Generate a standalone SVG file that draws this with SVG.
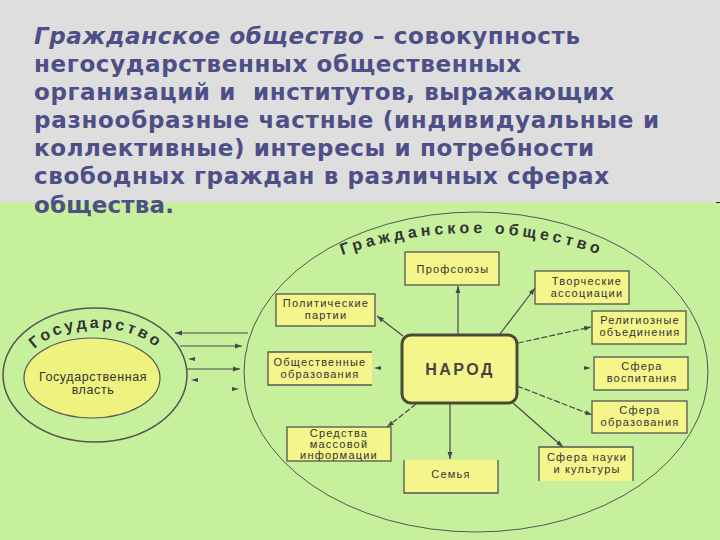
<svg xmlns="http://www.w3.org/2000/svg" width="720" height="540" viewBox="0 0 720 540">
<defs>
<style>
.title{font-family:"DejaVu Sans",Verdana,sans-serif;font-weight:bold;font-size:23px;fill:#4d4f86}
.box{fill:#f4f68c;stroke:#555;stroke-width:1.3}
.bfill{fill:#f4f68c}
.edge{fill:none;stroke:#555;stroke-width:1.3}
.lbl{font-family:"Liberation Sans",Arial,sans-serif;font-size:11px;fill:#333;letter-spacing:1.2px;text-anchor:middle}
.big{font-size:12.5px;letter-spacing:0.6px}
.arc{font-family:"Liberation Sans",Arial,sans-serif;font-weight:bold;fill:#333}
.con{fill:none;stroke:#484848;stroke-width:1.2}
.dash{stroke-dasharray:6 2}
.head{fill:#484848}
</style>
<marker id="ah" viewBox="0 0 10 10" refX="10" refY="5" markerWidth="7" markerHeight="7" markerUnits="userSpaceOnUse" orient="auto">
<path d="M0,1.5 L10,5 L0,8.5 z" fill="#484848"/>
</marker>
<path id="gosArc" d="M 24,372 A 72,44 0 0 1 168,372"/>
<path id="gsArc" d="M 334,258 Q 471,208 610,258"/>
</defs>

<rect x="0" y="0" width="720" height="202" fill="#dedede"/>
<rect x="0" y="202" width="720" height="338" fill="#c6f09c"/>
<line x1="716" y1="202.5" x2="720" y2="202.5" stroke="#222" stroke-width="1"/>

<g id="definition" class="title">
<text x="34" y="44" textLength="546" lengthAdjust="spacing"><tspan font-style="italic">Гражданское общество</tspan> – совокупность</text>
<text x="34" y="72" textLength="487" lengthAdjust="spacing">негосударственных общественных</text>
<text x="34" y="100" textLength="580" lengthAdjust="spacing" xml:space="preserve">организаций и  институтов, выражающих</text>
<text x="34" y="128" textLength="625" lengthAdjust="spacing">разнообразные частные (индивидуальные и</text>
<text x="34" y="156" textLength="560" lengthAdjust="spacing">коллективные) интересы и потребности</text>
<text x="34" y="184" textLength="575" lengthAdjust="spacing">свободных граждан в различных сферах</text>
<text x="34" y="213" textLength="140" lengthAdjust="spacing">общества.</text>
</g>

<g id="gosudarstvo">
<ellipse cx="95" cy="375" rx="92" ry="67" fill="none" stroke="#555" stroke-width="1.5"/>
<ellipse cx="92" cy="378" rx="68" ry="40" fill="#eef27e" stroke="#555" stroke-width="1.2"/>
<text class="arc" font-size="16" letter-spacing="3" text-anchor="middle"><textPath href="#gosArc" startOffset="50%">Государство</textPath></text>
<text class="lbl big" x="93" y="381">Государственная</text>
<text class="lbl big" x="93" y="394">власть</text>
</g>

<g id="grazhdanskoe">
<ellipse cx="476" cy="372" rx="232" ry="160" fill="none" stroke="#555" stroke-width="1"/>
<text class="arc" font-size="16" letter-spacing="4" text-anchor="middle"><textPath href="#gsArc" startOffset="50%">Гражданское общество</textPath></text>
</g>

<g id="connectors">
<path class="con" d="M248,333 L175,333" marker-end="url(#ah)"/>
<path class="con" d="M180,346 L242,346" marker-end="url(#ah)"/>
<polygon class="head" points="188,359 195,357 195,361"/>
<path class="con" d="M187,369 L240,369" marker-end="url(#ah)"/>
<polygon class="head" points="191,380 198,378 198,382"/>
<polygon class="head" points="239,389 232,387 232,391"/>

<path class="con" d="M458,335 L458,286" marker-end="url(#ah)"/>
<path class="con" d="M403,336 L377,316" marker-end="url(#ah)"/>
<path class="con" d="M500,334 L535,288" marker-end="url(#ah)"/>
<path class="con dash" d="M518,343 L591,327" marker-end="url(#ah)"/>
<polygon class="head" points="374,368 381,366 381,370"/>
<polygon class="head" points="591,368 584,366 584,370"/>
<path class="con dash" d="M517,386 L592,415" marker-end="url(#ah)"/>
<path class="con" d="M513,403 L563,447" marker-end="url(#ah)"/>
<path class="con" d="M450,403 L450,459" marker-end="url(#ah)"/>
<path class="con dash" d="M416,404 L387,427" marker-end="url(#ah)"/>
</g>

<g id="narod">
<rect x="402" y="335" width="115" height="68" rx="9" fill="#f4f68c" stroke="#4a4a3a" stroke-width="3"/>
<text x="460" y="375" font-family="Liberation Sans,Arial,sans-serif" font-weight="bold" font-size="16" fill="#444" letter-spacing="2.5" text-anchor="middle">НАРОД</text>
</g>

<g id="profsoyuzy">
<rect class="box" x="405" y="252" width="94" height="33"/>
<text class="lbl" x="453" y="273">Профсоюзы</text>
</g>

<g id="partii">
<rect class="box" x="276" y="294" width="99" height="32"/>
<text class="lbl" x="326" y="307">Политические</text>
<text class="lbl" x="326" y="318.5">партии</text>
</g>

<g id="tvorcheskie">
<rect class="box" x="535" y="271" width="94" height="33"/>
<text class="lbl" x="587" y="285">Творческие</text>
<text class="lbl" x="587" y="296.5">ассоциации</text>
</g>

<g id="religioznye">
<rect class="box" x="592" y="311" width="94" height="33"/>
<text class="lbl" x="640" y="324">Религиозные</text>
<text class="lbl" x="640" y="335.5">объединения</text>
</g>

<g id="obshchestvennye">
<rect class="bfill" x="268" y="352" width="104" height="33"/>
<path class="edge" d="M372,352 L268,352 L268,385 L372,385"/>
<text class="lbl" x="320" y="366">Общественные</text>
<text class="lbl" x="320" y="377.5">образования</text>
</g>

<g id="vospitanie">
<rect class="box" x="594" y="357" width="94" height="33"/>
<text class="lbl" x="642" y="370">Сфера</text>
<text class="lbl" x="642" y="381.5">воспитания</text>
</g>

<g id="obrazovanie">
<rect class="box" x="592" y="401" width="95" height="32"/>
<text class="lbl" x="640" y="414">Сфера</text>
<text class="lbl" x="640" y="425.5">образования</text>
</g>

<g id="smi">
<rect class="box" x="287" y="427" width="104" height="34"/>
<text class="lbl" x="339" y="437">Средства</text>
<text class="lbl" x="339" y="448">массовой</text>
<text class="lbl" x="339" y="459">информации</text>
</g>

<g id="semya">
<rect class="bfill" x="404" y="460" width="94" height="33"/>
<path class="edge" d="M404,460 L404,493 L498,493 L498,460"/>
<text class="lbl" x="451" y="478">Семья</text>
</g>

<g id="nauka">
<rect class="bfill" x="539" y="447" width="94" height="34"/>
<path class="edge" d="M539,481 L539,447 L633,447 L633,481"/>
<text class="lbl" x="587" y="461">Сфера науки</text>
<text class="lbl" x="587" y="472.5">и культуры</text>
</g>
</svg>
